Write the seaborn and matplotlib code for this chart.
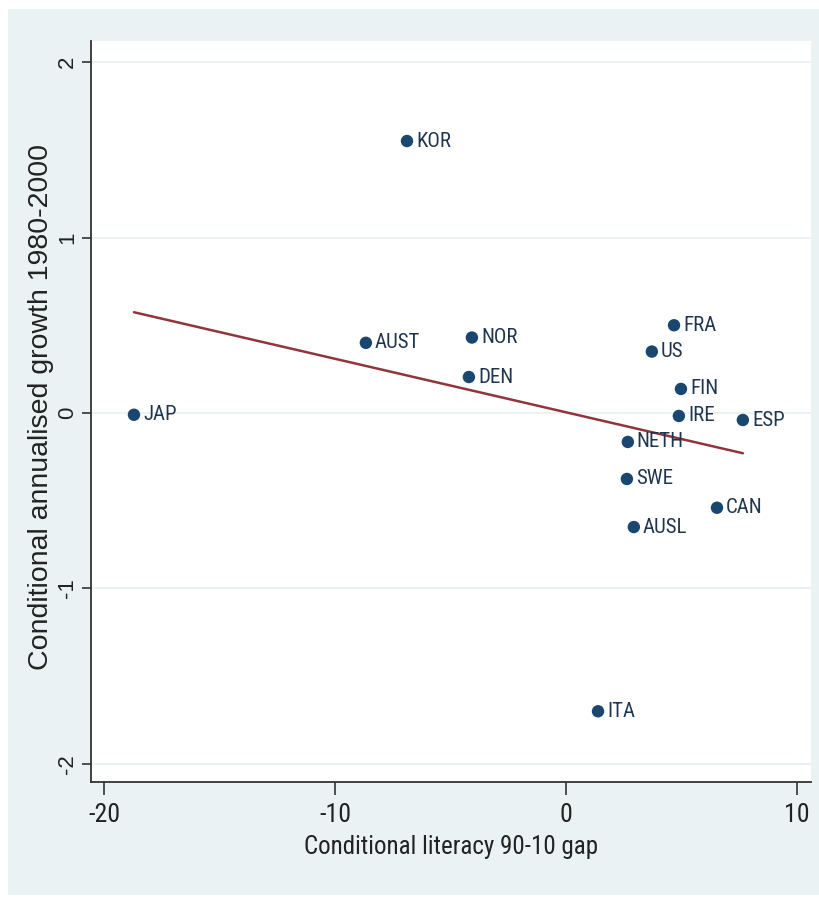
import matplotlib
matplotlib.use('Agg')
import matplotlib.pyplot as plt
from matplotlib.patches import Rectangle
import seaborn as sns
import pandas as pd

countries = ['KOR', 'AUST', 'NOR', 'DEN', 'JAP', 'FRA', 'US', 'FIN', 'IRE',
             'ESP', 'NETH', 'SWE', 'CAN', 'AUSL', 'ITA']
literacy_gap = [-6.88, -8.66, -4.07, -4.20, -18.70, 4.68, 3.72, 4.98, 4.89,
                7.66, 2.68, 2.64, 6.54, 2.94, 1.39]
growth = [1.55, 0.40, 0.43, 0.205, -0.01, 0.50, 0.35, 0.137, -0.017,
          -0.04, -0.165, -0.376, -0.54, -0.65, -1.70]

x_ticks = [-20, -10, 0, 10]
y_ticks = [-2, -1, 0, 1, 2]
x_label = 'Conditional literacy 90-10 gap'
y_label = 'Conditional annualised growth 1980-2000'

df = pd.DataFrame({'country': countries, 'gap': literacy_gap, 'growth': growth})

sns.set_theme(style='white')
plt.rcParams['font.family'] = ['Liberation Sans', 'DejaVu Sans']
narrow = ['Roboto Condensed', 'Liberation Sans', 'DejaVu Sans']

W, H = 819, 898
fig = plt.figure(figsize=(W / 100, H / 100), dpi=100)
fig.patch.set_facecolor('white')
fig.patches.append(Rectangle((8 / W, 3 / H), (W - 8) / W, (H - 9 - 3) / H,
                             transform=fig.transFigure, facecolor='#eaf2f3',
                             edgecolor='none', zorder=-10))

ax = fig.add_axes([91 / W, 1 - 782 / H, (811 - 91) / W, (782 - 41) / H])
ax.set_facecolor('white')

navy = '#1a476f'
maroon = '#90353b'

sns.regplot(data=df, x='gap', y='growth', scatter=False, ci=None, truncate=True,
            line_kws=dict(color=maroon, lw=1.8, zorder=2), ax=ax)
sns.scatterplot(data=df, x='gap', y='growth', s=80, color=navy, edgecolor='none',
                zorder=3, ax=ax)

for name, xv, yv in zip(countries, literacy_gap, growth):
    ax.annotate(name, (xv, yv), xytext=(6.5, 0), textcoords='offset points',
                va='center', ha='left', fontsize=15, family=narrow,
                color='#1f3550', zorder=4)

ax.set_xlim(-20.56, 10.61)
ax.set_ylim(-2.103, 2.12)
ax.set_xticks(x_ticks)
ax.set_yticks(y_ticks)
ax.set_xticklabels([str(t) for t in x_ticks], family=narrow, fontsize=18.5,
                   color='#222222')
ax.set_yticklabels([str(t) for t in y_ticks], rotation=90, va='center',
                   fontsize=16, color='#222222')

ax.tick_params(axis='x', bottom=True, direction='out', length=9, width=1.2,
               color='#333333', pad=6)
ax.tick_params(axis='y', left=True, direction='out', length=6.5, width=1.2,
               color='#333333', pad=3)

ax.yaxis.grid(True, color='#eaf2f3', lw=1.5, zorder=0)
ax.xaxis.grid(False)
ax.set_axisbelow(True)

for s in ['top', 'right']:
    ax.spines[s].set_visible(False)
for s in ['left', 'bottom']:
    ax.spines[s].set_visible(True)
    ax.spines[s].set_color('#333333')
    ax.spines[s].set_linewidth(1.3)

ax.set_xlabel(x_label, family=narrow, fontsize=18, color='#222222', labelpad=6)
ax.set_ylabel(y_label, fontsize=20.5, color='#222222')
ax.yaxis.set_label_coords((54 - 91) / 720, (782 - 407) / 741)

fig.savefig('out.png', dpi=100)
